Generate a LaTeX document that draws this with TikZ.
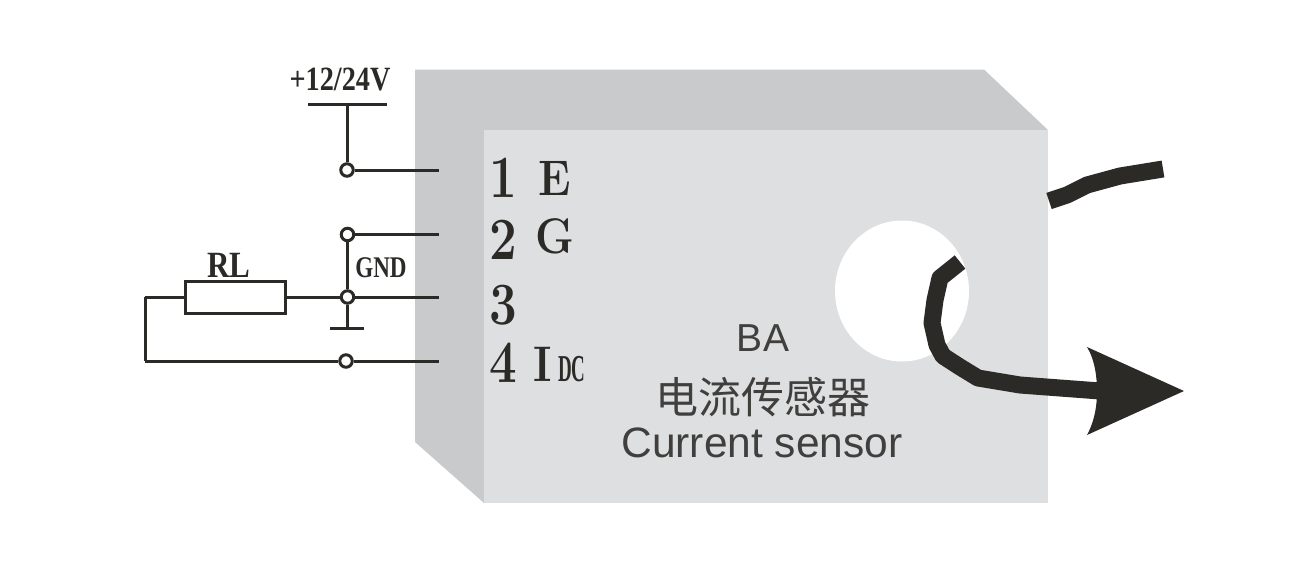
\documentclass[tikz,border=0pt]{standalone}
\usepackage{fontspec}
\setmainfont{Liberation Sans}
\newfontfamily\cjk{Noto Sans CJK SC}
\newfontfamily\lmr{Liberation Serif}
\newfontfamily\lmrb{Latin Modern Roman}
\definecolor{sidegray}{HTML}{C8CACC}
\definecolor{frontgray}{HTML}{DDDFE0}
\definecolor{inkc}{HTML}{2B2A27}
\tikzset{
  wire/.style={draw=inkc,line width=3pt},
  term/.style={circle,draw=inkc,fill=white,line width=3pt,minimum size=12.5pt,inner sep=0pt},
  endp/.style={inner sep=0pt,minimum size=0pt},
  lab/.style={text=inkc,inner sep=0pt,transform shape},
  pin/.style={lab,font=\lmrb\bfseries\fontsize{60}{60}\selectfont,xscale=.82},
  letter/.style={lab,font=\lmrb\bfseries\fontsize{50}{50}\selectfont,xscale=.88},
  sans/.style={text=inkc!90!white,inner sep=0pt},
  cable/.style={draw=inkc,line width=17pt,line join=round},
}
\begin{document}
\begin{tikzpicture}[x=1pt,y=-1pt]
\useasboundingbox (0,0) rectangle (1300,565);
% housing
\fill[sidegray] (415,69.5) -- (984,69.5) -- (1048,130) -- (484,130) -- (484,503) -- (415,442) -- cycle;
\fill[frontgray] (484,130) rectangle (1048,503);
\fill[white] (902,291) ellipse (67 and 70.5);
% circuit nodes
\node[endp] (vbarL) at (308,104) {};
\node[endp] (vbarR) at (387,104) {};
\node[endp] (vtop) at (347,104) {};
\node[endp] (p1) at (439,170) {};
\node[endp] (p2) at (439,234.5) {};
\node[endp] (p3) at (439,297) {};
\node[endp] (p4) at (439,361) {};
\node[endp] (gbarL) at (330,328) {};
\node[endp] (gbarR) at (364,328) {};
\node[endp] (gmid) at (347.5,328) {};
\node[endp] (cornerA) at (145,297) {};
\node[endp] (cornerB) at (145,361) {};
\node[term] (t1) at (347,170) {};
\node[term] (t2) at (347.5,234.5) {};
\node[term] (t3) at (347.5,297) {};
\node[term] (t4) at (346,361) {};
\node[draw=inkc,fill=white,line width=3pt,minimum width=100pt,minimum height=32pt,inner sep=0pt] (rl) at (235,297) {};
% connectors
\draw[wire] (vbarL) -- (vbarR);
\draw[wire] (vtop) -- (t1);
\draw[wire] (t1) -- (p1);
\draw[wire] (t2) -- (p2);
\draw[wire] (t3) -- (p3);
\draw[wire] (t4) -- (p4);
\draw[wire] (t2) -- (t3);
\draw[wire] (t3) -- (gmid);
\draw[wire] (gbarL) -- (gbarR);
\draw[wire] (rl) -- (t3);
\draw[wire,line join=miter] (rl) -- (cornerA) -- (cornerB) -- (t4);
% labels
\node[lab,font=\lmr\bfseries\fontsize{34}{34}\selectfont,xscale=.83] (lv) at (340,79) {+12/24V};
\node[lab,font=\lmr\bfseries\fontsize{37}{37}\selectfont,xscale=.84] (lrl) at (229,265) {RL};
\node[lab,font=\lmr\bfseries\fontsize{30}{30}\selectfont,xscale=.77] (lg) at (381,268) {GND};
\node[pin] (n1) at (503,178) {1};
\node[pin] (n2) at (503,240) {2};
\node[pin] (n3) at (503,305) {3};
\node[pin] (n4) at (503,363) {4};
\node[letter] (le) at (555,178) {E};
\node[letter] (lgg) at (555,236) {G};
\node[letter,anchor=base west] (li) at (533,381) {I};
\node[lab,anchor=base west,font=\lmr\bfseries\fontsize{38}{38}\selectfont,xscale=.5] (ldc) at (558,381) {DC};
\node[sans,font=\fontsize{39}{39}\selectfont] (ba) at (763,338) {BA};
\node[sans,font=\cjk\fontsize{43}{43}\selectfont] (cn) at (763,397) {电流传感器};
\node[sans,font=\fontsize{42.5}{42.5}\selectfont] (en) at (762,443) {Current sensor};
% cables and arrow
\node[endp] (c1a) at (1049,201) {};
\node[endp] (c1b) at (1163,169) {};
\draw[cable] (c1a.center) -- (1067,195) -- (1087,185) -- (1120,176) -- (c1b.center);
\node[endp] (c2a) at (960,262) {};
\node[endp] (c2b) at (1100,391) {};
\draw[cable] (c2a.center) -- (940,278) -- (935,300) -- (932,323) -- (937,345) -- (943,356) -- (960,367) -- (978,378) -- (1020,385) -- (c2b.center);
\fill[inkc] (1087,347) .. controls (1095,360) and (1097,378) .. (1097,391) .. controls (1097,405) and (1095,420) .. (1087,435) -- (1184,391) -- cycle;
\end{tikzpicture}
\end{document}
